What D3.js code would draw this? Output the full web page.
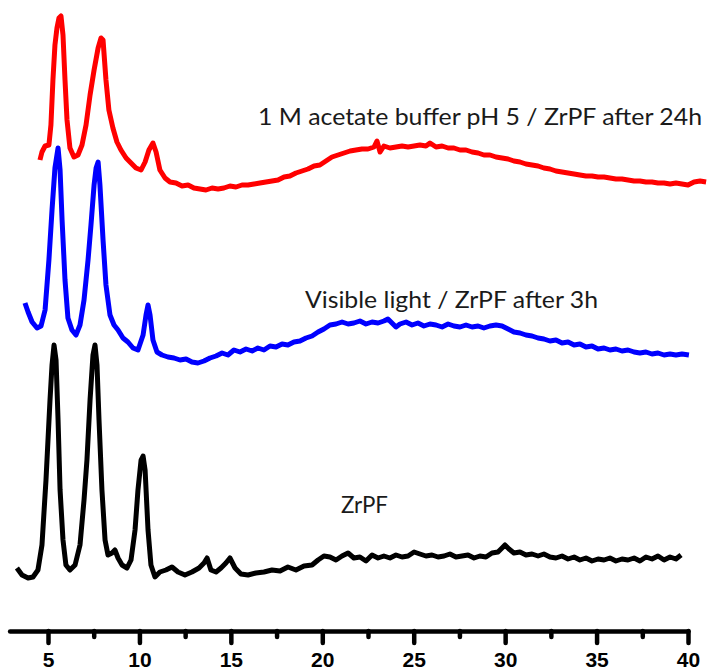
<!DOCTYPE html>
<html>
<head>
<meta charset="utf-8">
<script src="https://cdn.jsdelivr.net/npm/d3@7"></script>
<style>
  body { margin: 0; background: #fff; }
  .axis path, .axis line { stroke: #000; stroke-width: 4.5px; stroke-linecap: round; }
  .axis text { font-family: 'Liberation Sans', Arial, sans-serif; font-weight: bold; font-size: 21px; fill: #000; }
  .trace { fill: none; stroke-width: 5px; stroke-linejoin: round; }
  .label { font-family: Lato, 'Open Sans', sans-serif; font-size: 24px; fill: #1a1a1a; }
</style>
</head>
<body>
<div id="vis"></div>
<script>
// 2-theta (deg) and intensity (a.u.)
const zrpfX = [3.30, 3.58, 3.91, 4.18, 4.45, 4.67, 4.89, 5.11, 5.22, 5.33, 5.44, 5.55, 5.66, 5.82, 5.98, 6.20, 6.48, 6.75, 6.97, 7.13, 7.30, 7.46, 7.57, 7.68, 7.79, 7.95, 8.12, 8.28, 8.50, 8.66, 8.83, 9.05, 9.32, 9.54, 9.76, 9.92, 10.09, 10.20, 10.31, 10.47, 10.63, 10.85, 11.12, 11.45, 11.78, 12.11, 12.49, 12.87, 13.26, 13.53, 13.70, 13.91, 14.19, 14.46, 14.73, 14.95, 15.23, 15.55, 15.94, 16.37, 16.81, 17.25, 17.69, 18.12, 18.56, 19.00, 19.44, 19.77, 20.09, 20.42, 20.75, 21.08, 21.41, 21.73, 22.06, 22.39, 22.72, 23.05, 23.37, 23.70, 24.03, 24.36, 24.69, 25.02, 25.34, 25.67, 26.00, 26.33, 26.66, 26.98, 27.31, 27.64, 27.97, 28.30, 28.62, 28.95, 29.28, 29.61, 29.83, 29.99, 30.21, 30.48, 30.81, 31.14, 31.47, 31.80, 32.12, 32.45, 32.78, 33.11, 33.44, 33.77, 34.09, 34.42, 34.75, 35.08, 35.41, 35.73, 36.06, 36.39, 36.72, 37.05, 37.37, 37.70, 38.03, 38.36, 38.69, 39.02, 39.34, 39.62];
const zrpfY = [320, 250, 220, 230, 300, 550, 1200, 2000, 2350, 2550, 2400, 1800, 1100, 600, 350, 300, 350, 550, 1000, 1400, 2000, 2450, 2550, 2350, 1800, 1100, 600, 450, 470, 500, 420, 350, 320, 400, 700, 1100, 1400, 1440, 1300, 700, 350, 230, 280, 300, 330, 280, 250, 280, 320, 370, 420, 300, 280, 320, 370, 420, 320, 260, 250, 270, 280, 300, 290, 330, 300, 340, 350, 400, 440, 430, 400, 440, 470, 420, 430, 390, 450, 420, 440, 420, 450, 430, 440, 480, 460, 440, 450, 430, 440, 460, 430, 440, 450, 420, 440, 430, 470, 480, 520, 550, 510, 470, 480, 450, 460, 440, 460, 430, 420, 440, 410, 430, 400, 420, 390, 410, 400, 420, 390, 410, 400, 420, 390, 430, 410, 440, 400, 430, 410, 450];

const lightX = [3.74, 3.91, 4.13, 4.40, 4.62, 4.84, 5.05, 5.22, 5.38, 5.55, 5.66, 5.77, 5.93, 6.09, 6.31, 6.53, 6.75, 6.97, 7.19, 7.35, 7.52, 7.63, 7.74, 7.84, 8.01, 8.17, 8.39, 8.61, 8.83, 9.10, 9.37, 9.65, 9.92, 10.20, 10.36, 10.47, 10.58, 10.74, 10.96, 11.23, 11.56, 11.89, 12.22, 12.55, 12.87, 13.20, 13.53, 13.86, 14.19, 14.52, 14.84, 15.17, 15.50, 15.83, 16.16, 16.48, 16.81, 17.14, 17.47, 17.80, 18.12, 18.45, 18.78, 19.11, 19.44, 19.77, 20.09, 20.42, 20.75, 21.08, 21.41, 21.73, 22.06, 22.39, 22.72, 23.05, 23.37, 23.59, 23.81, 24.03, 24.25, 24.58, 24.91, 25.23, 25.56, 25.89, 26.22, 26.55, 26.88, 27.20, 27.53, 27.86, 28.19, 28.52, 28.84, 29.17, 29.50, 29.83, 30.16, 30.48, 30.81, 31.14, 31.47, 31.80, 32.12, 32.45, 32.78, 33.11, 33.44, 33.77, 34.09, 34.42, 34.75, 35.08, 35.41, 35.73, 36.06, 36.39, 36.72, 37.05, 37.37, 37.70, 38.03, 38.36, 38.69, 39.02, 39.34, 39.67, 40.05];
const lightY = [970, 880, 780, 720, 740, 900, 1400, 1900, 2320, 2520, 2300, 1800, 1200, 820, 700, 650, 750, 1000, 1400, 1750, 2150, 2320, 2380, 2150, 1600, 1150, 850, 750, 700, 620, 580, 520, 500, 650, 850, 950, 850, 600, 480, 450, 430, 420, 400, 410, 380, 370, 390, 420, 440, 470, 450, 500, 480, 510, 490, 520, 500, 540, 530, 560, 550, 580, 590, 620, 640, 680, 710, 750, 760, 780, 760, 770, 790, 760, 780, 770, 790, 810, 770, 730, 760, 780, 750, 770, 740, 760, 750, 730, 760, 740, 730, 750, 730, 740, 720, 740, 750, 740, 710, 680, 670, 650, 640, 620, 610, 590, 600, 570, 580, 550, 560, 530, 540, 510, 520, 500, 510, 490, 500, 480, 470, 480, 460, 470, 450, 460, 450, 460, 450];

const acetateX = [4.56, 4.67, 4.84, 5.05, 5.16, 5.27, 5.38, 5.49, 5.60, 5.71, 5.82, 5.93, 6.04, 6.20, 6.42, 6.64, 6.86, 7.08, 7.30, 7.52, 7.74, 7.90, 8.01, 8.17, 8.33, 8.55, 8.77, 8.99, 9.27, 9.54, 9.81, 10.09, 10.31, 10.52, 10.74, 10.91, 11.12, 11.40, 11.67, 12.00, 12.33, 12.66, 12.98, 13.31, 13.64, 13.97, 14.30, 14.62, 14.95, 15.28, 15.61, 15.94, 16.27, 16.59, 16.92, 17.25, 17.58, 17.91, 18.23, 18.56, 18.89, 19.22, 19.55, 19.87, 20.20, 20.53, 20.86, 21.19, 21.52, 21.84, 22.17, 22.50, 22.83, 22.99, 23.16, 23.37, 23.70, 24.03, 24.36, 24.69, 25.02, 25.34, 25.67, 25.89, 26.22, 26.55, 26.88, 27.20, 27.53, 27.86, 28.19, 28.52, 28.84, 29.17, 29.50, 29.83, 30.16, 30.48, 30.81, 31.14, 31.47, 31.80, 32.12, 32.45, 32.78, 33.11, 33.44, 33.77, 34.09, 34.42, 34.75, 35.08, 35.41, 35.73, 36.06, 36.39, 36.72, 37.05, 37.37, 37.70, 38.03, 38.36, 38.69, 39.02, 39.34, 39.67, 40.00, 40.33, 40.66, 40.99];
const acetateY = [600, 680, 740, 750, 950, 1400, 1750, 1920, 2020, 2040, 1850, 1400, 1000, 720, 630, 650, 750, 950, 1250, 1500, 1720, 1820, 1800, 1400, 1100, 920, 780, 700, 620, 570, 520, 500, 580, 700, 770, 680, 500, 420, 380, 370, 340, 350, 320, 310, 300, 320, 310, 320, 340, 330, 350, 350, 360, 370, 380, 390, 400, 430, 440, 470, 490, 510, 540, 550, 590, 630, 650, 670, 690, 700, 710, 710, 730, 790, 680, 740, 720, 730, 740, 730, 740, 750, 740, 770, 730, 740, 720, 720, 700, 700, 680, 670, 650, 650, 630, 620, 610, 590, 580, 560, 550, 540, 520, 510, 490, 480, 470, 460, 450, 440, 440, 430, 430, 420, 410, 410, 400, 390, 390, 380, 380, 370, 370, 360, 370, 360, 350, 380, 390, 380];

const seriesNames = ['ZrPF', 'Visible light / ZrPF after 3h', '1 M acetate buffer pH 5 / ZrPF after 24h'];
const seriesColours = ['#000000', '#0000ff', '#ff0000'];
const seriesOffsets = [0, 2000, 3800];
// label anchor: start 2-theta, end 2-theta, intensity of baseline
const labelStart = [21.02, 19.05, 16.48];
const labelEnd = [23.59, 35.08, 40.77];
const labelY = [870, 2920, 4750];

const majorTicks = [5, 10, 15, 20, 25, 30, 35, 40];
const minorTicks = [7.5, 12.5, 17.5, 22.5, 27.5, 32.5, 37.5];

const width = 709, height = 671;

const x = d3.scaleLinear().domain([2.9, 40]).range([9.6, 688]);
const y = d3.scaleLinear().domain([0, 6000]).range([600, 0]);

const $svg = d3.select('#vis').append('svg')
  .attr('width', width)
  .attr('height', height);

const traces = [
  { xs: zrpfX, ys: zrpfY },
  { xs: lightX, ys: lightY },
  { xs: acetateX, ys: acetateY }
].map((t, i) => ({
  name: seriesNames[i],
  colour: seriesColours[i],
  values: t.xs.map((v, j) => ({ tt: v, value: t.ys[j] + seriesOffsets[i] }))
}));

const line = d3.line()
  .x(d => x(d.tt))
  .y(d => y(d.value));

$svg.append('g')
  .selectAll('path')
  .data(traces)
  .join('path')
  .attr('class', 'trace')
  .attr('stroke', d => d.colour)
  .attr('d', d => line(d.values));

$svg.append('g')
  .selectAll('text')
  .data(seriesNames)
  .join('text')
  .attr('class', 'label')
  .attr('x', (d, i) => x(labelStart[i]))
  .attr('y', (d, i) => y(labelY[i]))
  .attr('textLength', (d, i) => x(labelEnd[i]) - x(labelStart[i]))
  .attr('lengthAdjust', 'spacingAndGlyphs')
  .text(d => d);

// bottom axis
const axisY = 631;

$svg.append('g')
  .attr('class', 'axis minor')
  .attr('transform', `translate(0, ${axisY})`)
  .call(d3.axisBottom(x).tickValues(minorTicks).tickSize(6).tickSizeOuter(0).tickFormat(''))
  .select('.domain').remove();

$svg.append('g')
  .attr('class', 'axis major')
  .attr('transform', `translate(0, ${axisY})`)
  .call(d3.axisBottom(x).tickValues(majorTicks).tickSize(12).tickSizeOuter(0).tickFormat(d3.format('d')))
  .call(g => g.selectAll('.tick text').attr('y', 21));
</script>
</body>
</html>
